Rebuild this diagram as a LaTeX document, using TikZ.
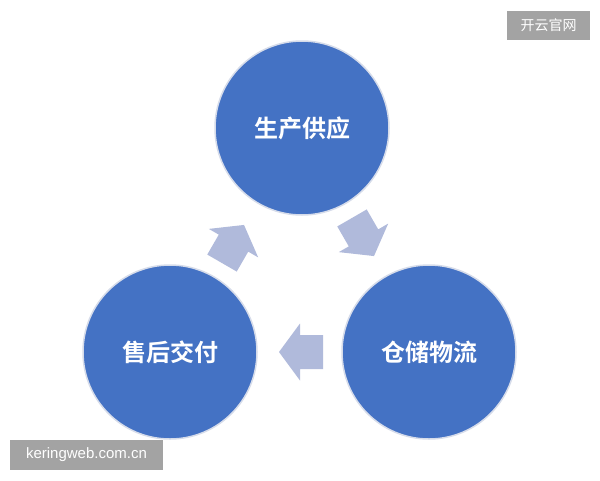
\documentclass[tikz,border=0pt]{standalone}
\usepackage{fontspec}
\setmainfont{Liberation Sans}
\newfontfamily\cjk{Noto Sans CJK SC}
\newfontfamily\cjkb{Noto Sans CJK SC Bold}
\begin{document}
\begin{tikzpicture}[x=1pt,y=-1pt,
  stage/.style={circle,fill=cblue,draw=cring,line width=1.5pt,minimum size=174pt,inner sep=0pt,text=white,font=\cjkb\fontsize{24}{24}\selectfont},
  wm/.style={fill=wgray,text=white,inner sep=0pt},
  flow/.style={fill=carrow,draw=none}]
\definecolor{cblue}{HTML}{4472C4}
\definecolor{cring}{HTML}{D6DCEA}
\definecolor{carrow}{HTML}{B0BADB}
\definecolor{wgray}{HTML}{A3A3A3}
\useasboundingbox (0,0) rectangle (600,480);
\fill[white] (0,0) rectangle (600,480);
\node[stage] (a) at (302,128) {生产供应};
\node[stage] (b) at (429,352) {仓储物流};
\node[stage] (c) at (170,352) {售后交付};
\def\arr{(22,0) -- (1,28.5) -- (1,17) -- (-22,17) -- (-22,-17) -- (1,-17) -- (1,-28.5) -- cycle}
\fill[flow,shift={(233,244)},rotate=60] \arr;
\fill[flow,shift={(363,237)},rotate=-60] \arr;
\fill[flow,shift={(301,352)},rotate=180] \arr;
\node[wm,minimum width=83pt,minimum height=29pt,font=\cjk\fontsize{14}{14}\selectfont] (w1) at (548.5,25) {开云官网};
\node[wm,minimum width=153pt,minimum height=30pt,font=\fontsize{15}{15}\selectfont] (w2) at (86.5,455) {keringweb.com.cn};
\end{tikzpicture}
\end{document}
